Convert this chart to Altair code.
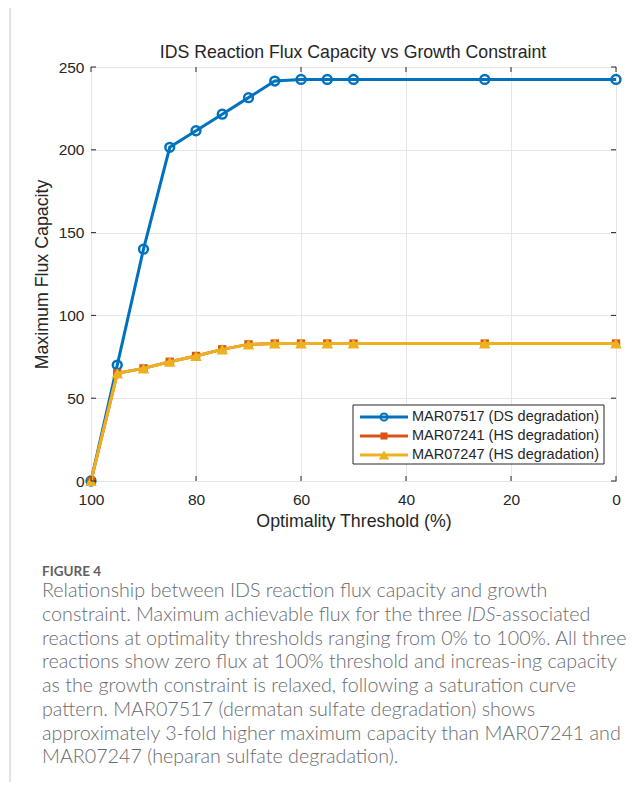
import altair as alt
import pandas as pd

# ---------------- data ----------------
thresholds = [100, 95, 90, 85, 80, 75, 70, 65, 60, 55, 50, 25, 0]
mar07517 = [0, 70, 140, 201.5, 211.5, 221.5, 231.5, 241.5, 242.5, 242.5, 242.5, 242.5, 242.5]
mar07241 = [0, 65, 68, 72, 75.5, 79.5, 82.5, 83, 83, 83, 83, 83, 83]
mar07247 = [0, 65, 68, 72, 75.5, 79.5, 82.5, 83, 83, 83, 83, 83, 83]
series_names = ["MAR07517 (DS degradation)", "MAR07241 (HS degradation)", "MAR07247 (HS degradation)"]
series_colors = ["#0072BD", "#D95319", "#EDB120"]
x_ticks = [100, 80, 60, 40, 20, 0]
y_ticks = [0, 50, 100, 150, 200, 250]

title_text = "IDS Reaction Flux Capacity vs Growth Constraint"
x_title = "Optimality Threshold (%)"
y_title = "Maximum Flux Capacity"
fig_label = "FIGURE 4"
caption_lines = [
    "Relationship between IDS reaction flux capacity and growth",
    "constraint. Maximum achievable flux for the three ",
    "reactions at optimality thresholds ranging from 0% to 100%. All three",
    "reactions show zero flux at 100% threshold and increas-ing capacity",
    "as the growth constraint is relaxed, following a saturation curve",
    "pattern. MAR07517 (dermatan sulfate degradation) shows",
    "approximately 3-fold higher maximum capacity than MAR07241 and",
    "MAR07247 (heparan sulfate degradation).",
]
caption_italic = "IDS"
caption_after = "-associated"

# ---------------- layout ----------------
W, H = 525, 414
PAD_L, PAD_T = 83, 59
TOTAL_W, TOTAL_H = 628, 774
FONT = "Liberation Sans"
CAP_FONT = "Lato"
CAP_SIZE = 19.7
CAP_COLOR = "#6a6b6e"
AX_COLOR = "#262626"
CAP_X = 42 - 91
CAP_Y0 = 591 - 67
CAP_DY = 23.76

rows = []
for name, vals in zip(series_names, [mar07517, mar07241, mar07247]):
    for t, v in zip(thresholds, vals):
        rows.append({"threshold": t, "flux": v, "series": name})
df = pd.DataFrame(rows)

xscale = alt.Scale(domain=[0, 100], reverse=True, nice=False, zero=False)
yscale = alt.Scale(domain=[0, 250], nice=False)

X = alt.X("threshold:Q", scale=xscale,
          axis=alt.Axis(values=x_ticks, title=x_title, grid=True, labelPadding=11,
                        titlePadding=5, labelFontSize=15.5, titleFontSize=17.8,
                        titleFontWeight="normal", labelFlush=False))
Y = alt.Y("flux:Q", scale=yscale,
          axis=alt.Axis(values=y_ticks, title=y_title, grid=True, labelPadding=7,
                        titlePadding=7, labelFontSize=15.5, titleFontSize=17.8,
                        titleFontWeight="normal", labelFlush=False))

base = alt.Chart(df)
layers = []
# grid/axes holder
layers.append(base.mark_line(opacity=0).encode(x=X, y=Y))

shapes = ["circle", "square", "triangle-up"]
sizes = [78, 70, 135]
leg_sizes = [50, 50, 110]
fills = [False, True, True]
for name, col, shp, sz, fl in zip(series_names, series_colors, shapes, sizes, fills):
    sub = base.transform_filter(alt.datum.series == name)
    layers.append(sub.mark_line(strokeWidth=3, color=col, clip=False).encode(
        x=alt.X("threshold:Q", scale=xscale), y=alt.Y("flux:Q", scale=yscale)))
    layers.append(sub.mark_point(shape=shp, size=sz, filled=fl, color=col,
                                 strokeWidth=2.5 if not fl else 1, opacity=1,
                                 clip=False).encode(
        x=alt.X("threshold:Q", scale=xscale), y=alt.Y("flux:Q", scale=yscale)))

# inward ticks
xt = alt.Chart(pd.DataFrame({"t": x_ticks}))
yt = alt.Chart(pd.DataFrame({"t": y_ticks}))
layers.append(xt.mark_rule(color=AX_COLOR, strokeWidth=1).encode(
    x=alt.X("t:Q", scale=xscale), y=alt.value(H), y2=alt.value(H - 5)))
layers.append(xt.mark_rule(color=AX_COLOR, strokeWidth=1).encode(
    x=alt.X("t:Q", scale=xscale), y=alt.value(0), y2=alt.value(5)))
layers.append(yt.mark_rule(color=AX_COLOR, strokeWidth=1).encode(
    y=alt.Y("t:Q", scale=yscale), x=alt.value(0), x2=alt.value(5)))
layers.append(yt.mark_rule(color=AX_COLOR, strokeWidth=1).encode(
    y=alt.Y("t:Q", scale=yscale), x=alt.value(W), x2=alt.value(W - 5)))

# chart title
one = alt.Chart(pd.DataFrame({"a": [0]}))
layers.append(one.mark_text(align="center", baseline="middle", font=FONT,
                            fontSize=17.7, color=AX_COLOR, text=title_text).encode(
    x=alt.value(W / 2 - 0.5), y=alt.value(53 - 67)))

# custom legend
LX0, LX1, LY0, LY1 = 262, 513, 338, 397
layers.append(one.mark_rect(fill="white", stroke=AX_COLOR, strokeWidth=1).encode(
    x=alt.value(LX0), x2=alt.value(LX1), y=alt.value(LY0), y2=alt.value(LY1)))
for i, (name, col, shp, sz, fl) in enumerate(zip(series_names, series_colors, shapes, leg_sizes, fills)):
    yy = 350 + i * 19
    layers.append(one.mark_rule(color=col, strokeWidth=3).encode(
        x=alt.value(269), x2=alt.value(317), y=alt.value(yy)))
    layers.append(one.mark_point(shape=shp, size=sz, filled=fl, color=col,
                                 strokeWidth=2 if not fl else 1, opacity=1).encode(
        x=alt.value(293), y=alt.value(yy)))
    layers.append(one.mark_text(align="left", baseline="middle", font=FONT,
                                fontSize=14.5, color=AX_COLOR, text=name).encode(
        x=alt.value(321), y=alt.value(yy)))

# page left border
layers.append(one.mark_rule(color="#c8c8c8", strokeWidth=1).encode(
    x=alt.value(10 - 91), y=alt.value(-PAD_T), y2=alt.value(TOTAL_H - PAD_T)))

# caption
layers.append(one.mark_text(align="left", baseline="middle", font=CAP_FONT,
                            fontSize=13.5, fontWeight="bold", color="#5f6062",
                            text=fig_label).encode(x=alt.value(CAP_X), y=alt.value(572 - 67)))
for i, line in enumerate(caption_lines):
    yy = CAP_Y0 + i * CAP_DY
    layers.append(one.mark_text(align="left", baseline="middle", font=CAP_FONT,
                                fontSize=CAP_SIZE, fontWeight=300, color=CAP_COLOR,
                                text=line).encode(x=alt.value(CAP_X), y=alt.value(yy)))
layers.append(one.mark_text(align="left", baseline="middle", font=CAP_FONT,
                            fontSize=CAP_SIZE, fontWeight=300, fontStyle="italic",
                            color=CAP_COLOR, text=caption_italic).encode(
    x=alt.value(467 - 91), y=alt.value(CAP_Y0 + CAP_DY)))
layers.append(one.mark_text(align="left", baseline="middle", font=CAP_FONT,
                            fontSize=CAP_SIZE, fontWeight=300, color=CAP_COLOR,
                            text=caption_after).encode(
    x=alt.value(495 - 91), y=alt.value(CAP_Y0 + CAP_DY)))

chart = alt.layer(*layers).properties(
    width=W, height=H,
    background="white",
    autosize=alt.AutoSizeParams(type="none"),
    padding={"left": PAD_L, "top": PAD_T, "right": TOTAL_W - PAD_L - W,
             "bottom": TOTAL_H - PAD_T - H},
).configure_view(stroke=AX_COLOR, strokeWidth=1).configure_axis(
    labelFont=FONT, titleFont=FONT, labelColor=AX_COLOR, titleColor=AX_COLOR,
    titleFontWeight="normal", domain=False, ticks=False,
    gridColor="#e6e6e6", gridWidth=1,
)

chart.save("out.html", embed_options={"renderer": "svg", "actions": False})
